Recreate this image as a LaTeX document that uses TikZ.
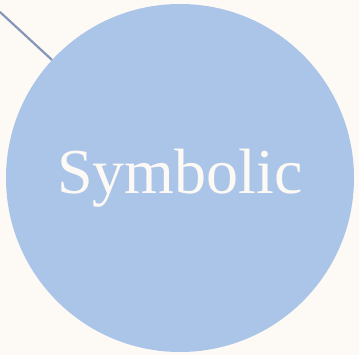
\documentclass[tikz,border=0pt]{standalone}
\usepackage{fontspec}
\setmainfont{Liberation Serif}
\definecolor{paper}{HTML}{FDF9F4}
\definecolor{bubble}{HTML}{ABC5E8}
\definecolor{link}{HTML}{8497BA}

\begin{document}
\begin{tikzpicture}[x=1pt,y=1pt]
  \fill[paper] (0,0) rectangle (359,355);
  \useasboundingbox (0,0) rectangle (359,355);

  % The main bubble and its label.
  \node[circle,fill=bubble,minimum size=348pt,inner sep=0pt,
        text=paper,font=\fontsize{64}{64}\selectfont] (symbolic) at (180,177) {Symbolic};

  % Connector leaving the picture at the top left.
  \coordinate (out) at (0,343);
  \draw[link,line width=2.2pt] (out) -- (symbolic);
\end{tikzpicture}
\end{document}
